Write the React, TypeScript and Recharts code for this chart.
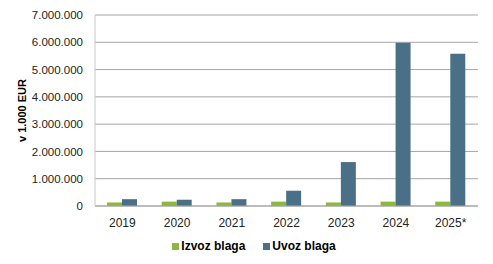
import React from 'react';
import { BarChart, Bar, XAxis, YAxis, CartesianGrid, Legend } from 'recharts';

const years = ['2019', '2020', '2021', '2022', '2023', '2024', '2025*'];
const izvoz = [130000, 160000, 130000, 160000, 130000, 160000, 160000];
const uvoz = [250000, 230000, 250000, 560000, 1610000, 5980000, 5580000];
const yTicks = [0, 1000000, 2000000, 3000000, 4000000, 5000000, 6000000, 7000000];

const data = years.map((year, i) => ({ year, izvoz: izvoz[i], uvoz: uvoz[i] }));

const fmt = (v: number) => v.toString().replace(/\B(?=(\d{3})+(?!\d))/g, '.');

const font = '"Liberation Sans", Arial, sans-serif';

function YLabel(props: any) {
  const { viewBox } = props;
  const cy = viewBox.y + viewBox.height / 2;
  return (
    <text
      x={22}
      y={cy}
      transform={`rotate(-90, 22, ${cy})`}
      textAnchor="middle"
      dominantBaseline="central"
      fontFamily={font}
      fontSize={11}
      fontWeight="bold"
      fill="#000"
    >
      v 1.000 EUR
    </text>
  );
}

export default function App() {
  return (
    <div style={{ position: 'absolute', left: 0, top: 0, width: 493, height: 264, background: '#fff' }}>
      <BarChart
        width={493}
        height={264}
        data={data}
        margin={{ top: 15, right: 15, left: 0, bottom: 0 }}
        barSize={15}
        barGap={0}
      >
        <CartesianGrid vertical={false} stroke="#a6a6a6" />
        <XAxis
          dataKey="year"
          height={22}
          tickLine={false}
          axisLine={{ stroke: '#a6a6a6' }}
          tick={{ fontFamily: font, fontSize: 12, fill: '#222' }}
          tickMargin={6}
        />
        <YAxis
          width={95}
          domain={[0, 7000000]}
          ticks={yTicks}
          tickFormatter={fmt}
          tickLine={false}
          tickSize={0}
          tickMargin={12}
          axisLine={{ stroke: '#c8c8c8' }}
          tick={{ fontFamily: font, fontSize: 11.5, fill: '#222' }}
          label={<YLabel />}
        />
        <Legend
          verticalAlign="bottom"
          height={28}
          iconType="square"
          iconSize={7}
          wrapperStyle={{
            fontFamily: font,
            fontSize: 12,
            fontWeight: 'bold',
            paddingTop: 8,
            paddingLeft: 24,
            transform: 'translateY(3px)',
          }}
          formatter={(value: string) => (
            <span style={{ color: '#000', marginLeft: -2, marginRight: 8 }}>{value}</span>
          )}
        />
        <Bar dataKey="izvoz" name="Izvoz blaga" fill="#8cb83e" isAnimationActive={false} />
        <Bar dataKey="uvoz" name="Uvoz blaga" fill="#4a7088" isAnimationActive={false} />
      </BarChart>
    </div>
  );
}
